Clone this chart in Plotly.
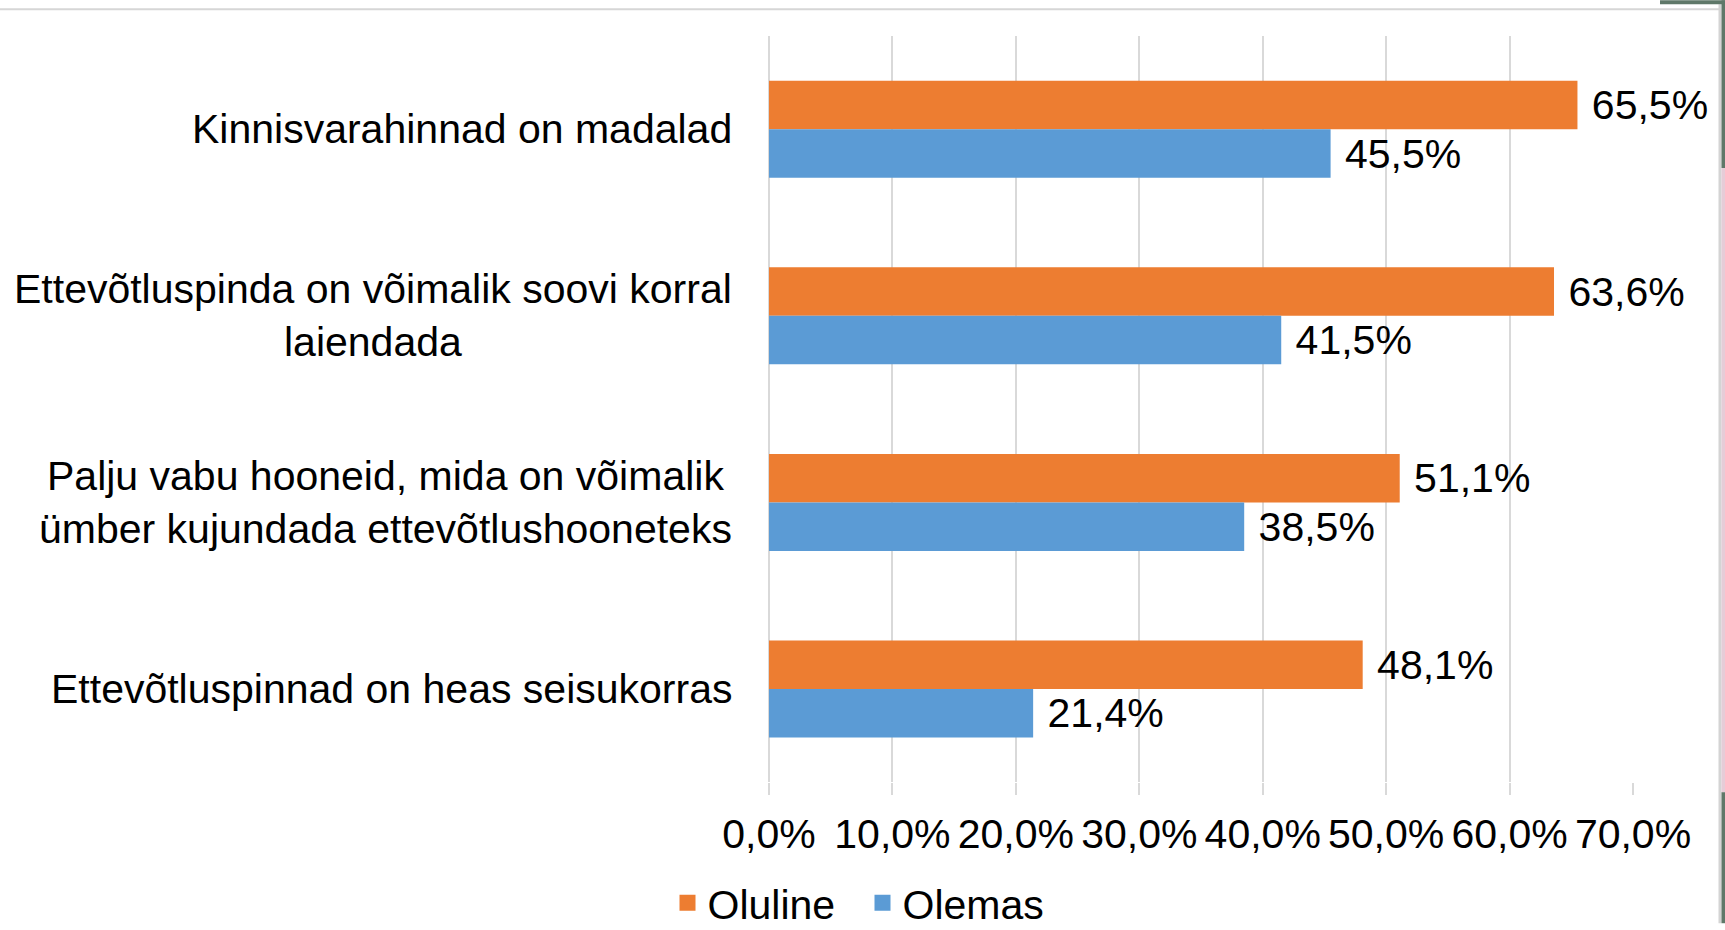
import plotly.graph_objects as go

categories = [
    "Kinnisvarahinnad on madalad",
    "Ettevõtluspinda on võimalik soovi korral<br>laiendada",
    "Palju vabu hooneid, mida on võimalik<br>ümber kujundada ettevõtlushooneteks",
    "Ettevõtluspinnad on heas seisukorras",
]
cat_keys = ["c1", "c2", "c3", "c4"]
series_names = ["Oluline", "Olemas"]
series_colors = ["#ED7D31", "#5B9BD5"]
oluline = [0.655, 0.636, 0.511, 0.481]
olemas = [0.455, 0.415, 0.385, 0.214]
tick_vals = [0, 0.1, 0.2, 0.3, 0.4, 0.5, 0.6, 0.7]

W, H = 1725, 930
L, R, T, B = 769, 1633, 36, 788
FONT = "Liberation Sans, Arial, sans-serif"
FS = 41
GRID = "#d9d9d9"

fig = go.Figure()
for name, color, vals in zip(series_names, series_colors, [oluline, olemas]):
    fig.add_trace(go.Bar(
        name=name, y=cat_keys, x=vals, orientation="h",
        marker=dict(color=color, line=dict(width=0)),
        texttemplate="\u00a0%{x:.1%}", textposition="outside",
        textfont=dict(size=FS, color="#000000", family=FONT),
        cliponaxis=False, constraintext="none", hoverinfo="skip",
        showlegend=False, legendgroup=name,
    ))
# legend entries with larger square swatches
for name, color in zip(series_names, series_colors):
    fig.add_trace(go.Scatter(
        name=name, x=[None], y=[None], mode="markers",
        marker=dict(symbol="square", size=18, color=color, line=dict(width=0)),
        showlegend=True, legendgroup=name, hoverinfo="skip",
    ))

for k, lab in zip(cat_keys, categories):
    fig.add_annotation(
        x=0, xref="paper", y=k, yref="y", text=lab, showarrow=False,
        xanchor="right", yanchor="middle", align="center", xshift=-35,
        font=dict(size=FS, color="#000000", family=FONT),
    )

def px(p):
    return (p - L) / (R - L)

def py(p):
    return (B - p) / (B - T)

shapes = [
    dict(type="rect", xref="paper", yref="paper", x0=px(0), x1=px(1720), y0=py(10), y1=py(8),
         fillcolor="#d6d6d6", line=dict(width=0), layer="above"),
    dict(type="rect", xref="paper", yref="paper", x0=px(1718.5), x1=px(1721.5), y0=py(930), y1=py(4),
         fillcolor="#d4d4d4", line=dict(width=0), layer="above"),
    dict(type="rect", xref="paper", yref="paper", x0=px(1721.5), x1=px(1725), y0=py(169), y1=py(0),
         fillcolor="#5f7869", line=dict(width=0), layer="above"),
    dict(type="rect", xref="paper", yref="paper", x0=px(1721.5), x1=px(1725), y0=py(798), y1=py(169),
         fillcolor="#e6ccd7", line=dict(width=0), layer="above"),
    dict(type="rect", xref="paper", yref="paper", x0=px(1721.5), x1=px(1725), y0=py(930), y1=py(798),
         fillcolor="#5f7869", line=dict(width=0), layer="above"),
    dict(type="rect", xref="paper", yref="paper", x0=px(1660), x1=px(1725), y0=py(4), y1=py(0),
         fillcolor="#5f7869", line=dict(width=0), layer="above"),
]

fig.update_layout(
    width=W, height=H,
    margin=dict(l=L, r=W - R, t=T, b=H - B, pad=0),
    paper_bgcolor="white", plot_bgcolor="white",
    barmode="group", bargap=0.48, bargroupgap=0,
    separators=", ",
    font=dict(family=FONT, size=FS, color="#000000"),
    showlegend=True,
    legend=dict(
        orientation="h", xref="container", yref="container",
        x=0.5, xanchor="center", y=1 - 903 / 930, yanchor="middle",
        font=dict(size=FS, family=FONT, color="#000000"),
        itemwidth=30, traceorder="normal", entrywidth=150,
        tracegroupgap=0, borderwidth=0,
    ),
    shapes=shapes,
    xaxis=dict(
        range=[0, 0.7], tickvals=tick_vals, tickformat=".1%",
        showgrid=True, gridcolor=GRID, gridwidth=1.5,
        zeroline=True, zerolinecolor=GRID, zerolinewidth=1.5,
        showline=False, ticks="outside", ticklen=12, tickcolor=GRID, tickwidth=1.5,
        ticklabelstandoff=4,
        tickfont=dict(size=FS, family=FONT, color="#000000"),
        fixedrange=True,
    ),
    yaxis=dict(
        categoryorder="array", categoryarray=cat_keys, autorange="reversed",
        showticklabels=False, showgrid=False, zeroline=False, showline=False, ticks="",
        fixedrange=True,
    ),
)

fig.write_html(
    "out.html",
    config={"displayModeBar": False, "staticPlot": False},
    post_script="document.body.style.margin='0';document.body.style.overflow='hidden';",
)
